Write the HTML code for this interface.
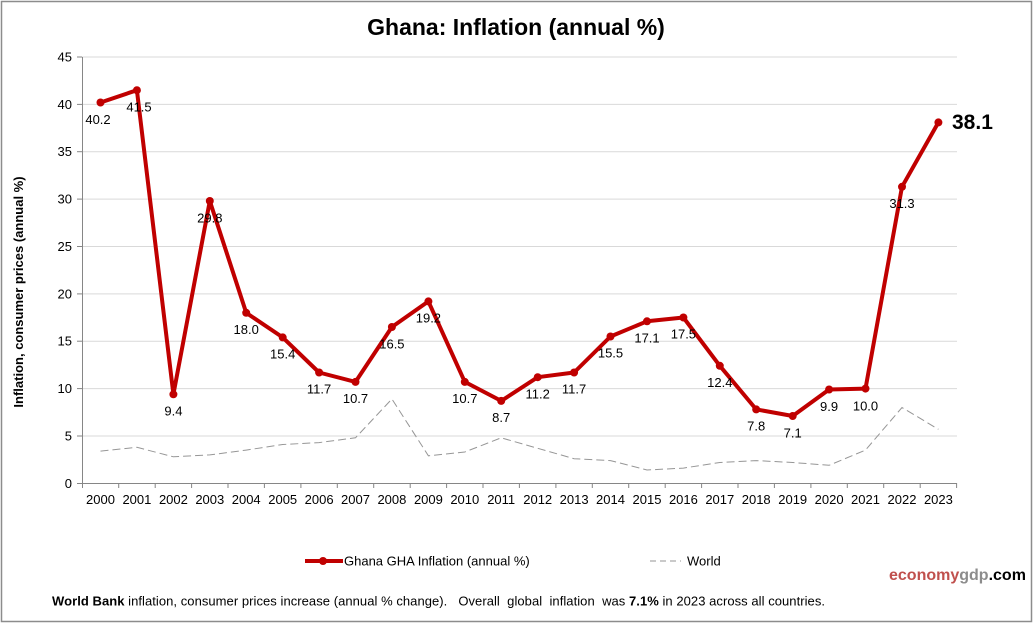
<!DOCTYPE html>
<html><head><meta charset="utf-8"><style>
html,body{margin:0;padding:0;background:#fff;}
svg{display:block;font-family:"Liberation Sans",Arial,sans-serif;}
</style></head><body>
<svg width="1034" height="624" viewBox="0 0 1034 624" xmlns="http://www.w3.org/2000/svg">
<rect x="0" y="0" width="1034" height="624" fill="#fff"/>
<rect x="1.5" y="1.5" width="1030" height="620" fill="none" stroke="#8c8c8c" stroke-width="1.5"/>
<text x="516" y="35" font-size="23" font-weight="bold" text-anchor="middle" fill="#000">Ghana: Inflation (annual %)</text>
<g stroke="#d9d9d9" stroke-width="1">
<line x1="82" y1="436.0" x2="957" y2="436.0"/>
<line x1="82" y1="388.6" x2="957" y2="388.6"/>
<line x1="82" y1="341.2" x2="957" y2="341.2"/>
<line x1="82" y1="293.9" x2="957" y2="293.9"/>
<line x1="82" y1="246.5" x2="957" y2="246.5"/>
<line x1="82" y1="199.1" x2="957" y2="199.1"/>
<line x1="82" y1="151.7" x2="957" y2="151.7"/>
<line x1="82" y1="104.4" x2="957" y2="104.4"/>
<line x1="82" y1="57.0" x2="957" y2="57.0"/>
</g>
<g stroke="#868686" stroke-width="1">
<line x1="82.5" y1="57" x2="82.5" y2="483.5"/>
<line x1="82" y1="483.5" x2="957" y2="483.5"/>
<line x1="77" y1="483.5" x2="82" y2="483.5"/>
<line x1="77" y1="436.0" x2="82" y2="436.0"/>
<line x1="77" y1="388.6" x2="82" y2="388.6"/>
<line x1="77" y1="341.2" x2="82" y2="341.2"/>
<line x1="77" y1="293.9" x2="82" y2="293.9"/>
<line x1="77" y1="246.5" x2="82" y2="246.5"/>
<line x1="77" y1="199.1" x2="82" y2="199.1"/>
<line x1="77" y1="151.7" x2="82" y2="151.7"/>
<line x1="77" y1="104.4" x2="82" y2="104.4"/>
<line x1="77" y1="57.0" x2="82" y2="57.0"/>
<path d="M82.5 483v5 M118.7 483v5 M155.2 483v5 M191.6 483v5 M228.0 483v5 M264.4 483v5 M300.9 483v5 M337.3 483v5 M373.7 483v5 M410.2 483v5 M446.6 483v5 M483.0 483v5 M519.4 483v5 M555.9 483v5 M592.3 483v5 M628.7 483v5 M665.2 483v5 M701.6 483v5 M738.0 483v5 M774.4 483v5 M810.9 483v5 M847.3 483v5 M883.7 483v5 M920.2 483v5 M956.6 483v5"/>
</g>
<g font-size="13" fill="#000" text-anchor="end">
<text x="72" y="488">0</text>
<text x="72" y="440.5">5</text>
<text x="72" y="393.1">10</text>
<text x="72" y="345.7">15</text>
<text x="72" y="298.4">20</text>
<text x="72" y="251">25</text>
<text x="72" y="203.6">30</text>
<text x="72" y="156.2">35</text>
<text x="72" y="108.9">40</text>
<text x="72" y="61.5">45</text>
</g>
<g font-size="13" fill="#000" text-anchor="middle">
<text x="100.5" y="504">2000</text><text x="136.9" y="504">2001</text><text x="173.4" y="504">2002</text><text x="209.8" y="504">2003</text><text x="246.2" y="504">2004</text><text x="282.7" y="504">2005</text><text x="319.1" y="504">2006</text><text x="355.5" y="504">2007</text><text x="391.9" y="504">2008</text><text x="428.4" y="504">2009</text><text x="464.8" y="504">2010</text><text x="501.2" y="504">2011</text><text x="537.7" y="504">2012</text><text x="574.1" y="504">2013</text><text x="610.5" y="504">2014</text><text x="647.0" y="504">2015</text><text x="683.4" y="504">2016</text><text x="719.8" y="504">2017</text><text x="756.2" y="504">2018</text><text x="792.7" y="504">2019</text><text x="829.1" y="504">2020</text><text x="865.5" y="504">2021</text><text x="902.0" y="504">2022</text><text x="938.4" y="504">2023</text>
</g>
<text transform="translate(23,292) rotate(-90)" font-size="13" font-weight="bold" text-anchor="middle" fill="#000">Inflation, consumer prices (annual %)</text>
<polyline fill="none" stroke="#969696" stroke-width="1" stroke-dasharray="8,4" points="100.5,451.1 136.9,447.3 173.4,456.8 209.8,454.9 246.2,450.1 282.7,444.5 319.1,442.6 355.5,437.8 391.9,399.0 428.4,455.8 464.8,452.0 501.2,437.8 537.7,448.3 574.1,458.7 610.5,460.6 647.0,470.0 683.4,468.1 719.8,462.5 756.2,460.6 792.7,462.5 829.1,465.3 865.5,450.1 902.0,407.5 938.4,429.3"/>
<polyline fill="none" stroke="#c00000" stroke-width="4" stroke-linejoin="round" points="100.5,102.5 136.9,90.2 173.4,394.3 209.8,201.0 246.2,312.8 282.7,337.4 319.1,372.5 355.5,381.9 391.9,327.0 428.4,301.4 464.8,381.9 501.2,400.9 537.7,377.2 574.1,372.5 610.5,336.5 647.0,321.3 683.4,317.5 719.8,365.8 756.2,409.4 792.7,416.0 829.1,389.5 865.5,388.6 902.0,186.8 938.4,122.4"/>
<g fill="#c00000">
<circle cx="100.5" cy="102.5" r="4"/><circle cx="136.9" cy="90.2" r="4"/><circle cx="173.4" cy="394.3" r="4"/><circle cx="209.8" cy="201.0" r="4"/><circle cx="246.2" cy="312.8" r="4"/><circle cx="282.7" cy="337.4" r="4"/><circle cx="319.1" cy="372.5" r="4"/><circle cx="355.5" cy="381.9" r="4"/><circle cx="391.9" cy="327.0" r="4"/><circle cx="428.4" cy="301.4" r="4"/><circle cx="464.8" cy="381.9" r="4"/><circle cx="501.2" cy="400.9" r="4"/><circle cx="537.7" cy="377.2" r="4"/><circle cx="574.1" cy="372.5" r="4"/><circle cx="610.5" cy="336.5" r="4"/><circle cx="647.0" cy="321.3" r="4"/><circle cx="683.4" cy="317.5" r="4"/><circle cx="719.8" cy="365.8" r="4"/><circle cx="756.2" cy="409.4" r="4"/><circle cx="792.7" cy="416.0" r="4"/><circle cx="829.1" cy="389.5" r="4"/><circle cx="865.5" cy="388.6" r="4"/><circle cx="902.0" cy="186.8" r="4"/><circle cx="938.4" cy="122.4" r="4"/>
</g>
<g font-size="13" fill="#000" text-anchor="middle">
<text x="98" y="124">40.2</text>
<text x="139" y="111.5">41.5</text>
<text x="173.4" y="415.5">9.4</text>
<text x="209.8" y="222.5">29.8</text>
<text x="246.2" y="334">18.0</text>
<text x="282.7" y="358.5">15.4</text>
<text x="319.1" y="393.5">11.7</text>
<text x="355.5" y="403">10.7</text>
<text x="391.9" y="348.5">16.5</text>
<text x="428.4" y="322.5">19.2</text>
<text x="464.8" y="403">10.7</text>
<text x="501.2" y="422">8.7</text>
<text x="537.7" y="398.5">11.2</text>
<text x="574.1" y="393.5">11.7</text>
<text x="610.5" y="357.5">15.5</text>
<text x="647.0" y="342.5">17.1</text>
<text x="683.4" y="338.5">17.5</text>
<text x="719.8" y="387">12.4</text>
<text x="756.2" y="430.5">7.8</text>
<text x="792.7" y="437.5">7.1</text>
<text x="829.1" y="411">9.9</text>
<text x="865.5" y="410.5">10.0</text>
<text x="902.0" y="208">31.3</text>
</g>
<text x="952" y="129" font-size="21" font-weight="bold" fill="#000">38.1</text>
<line x1="305" y1="561" x2="343" y2="561" stroke="#c00000" stroke-width="4"/>
<circle cx="323" cy="561" r="4" fill="#c00000"/>
<text x="344" y="565.5" font-size="13" fill="#000">Ghana GHA Inflation (annual %)</text>
<line x1="650" y1="561" x2="681" y2="561" stroke="#969696" stroke-width="1" stroke-dasharray="6,4"/>
<text x="687" y="565.5" font-size="13" fill="#000">World</text>
<text x="889" y="580" font-size="16" font-weight="bold"><tspan fill="#c0504d">economy</tspan><tspan fill="#8c8c8c">gdp</tspan><tspan fill="#000">.com</tspan></text>
<text x="52" y="605.5" font-size="13" fill="#000" style="white-space:pre" textLength="773" lengthAdjust="spacing"><tspan font-weight="bold">World Bank</tspan> inflation, consumer prices increase (annual % change).   Overall  global  inflation  was <tspan font-weight="bold">7.1%</tspan> in 2023 across all countries.</text>
</svg>
</body></html>
